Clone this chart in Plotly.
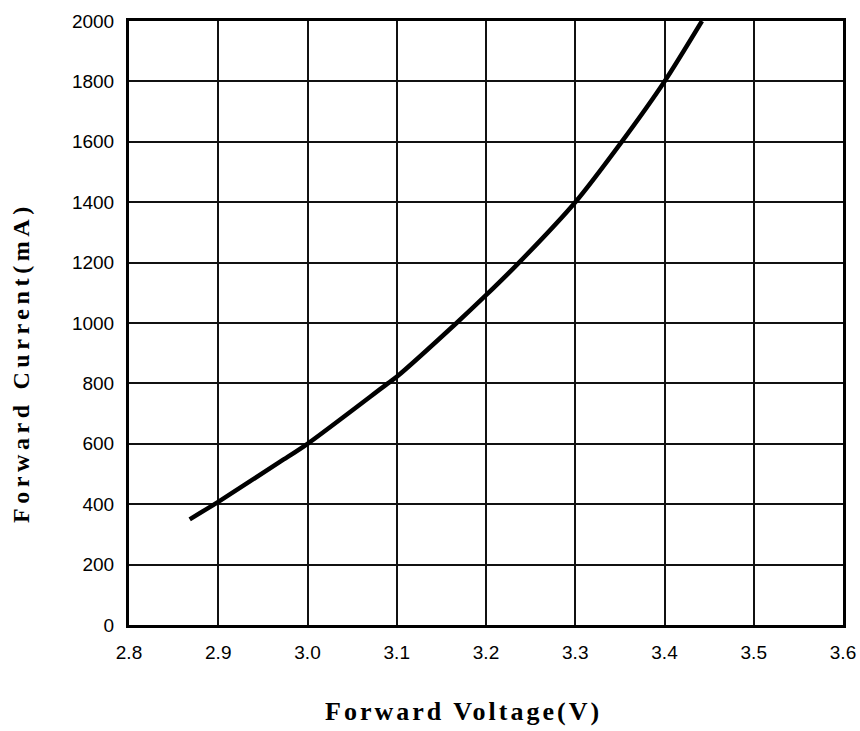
import plotly.graph_objects as go

voltage = [2.868, 2.9, 2.969, 3.0, 3.09, 3.1, 3.167, 3.2, 3.237, 3.3, 3.352, 3.4, 3.442]
current = [350, 408, 540, 600, 800, 822, 1000, 1092, 1200, 1400, 1600, 1800, 2000]

x_ticks = [2.8, 2.9, 3.0, 3.1, 3.2, 3.3, 3.4, 3.5, 3.6]
x_tick_labels = ["2.8", "2.9", "3.0", "3.1", "3.2", "3.3", "3.4", "3.5", "3.6"]
y_ticks = [0, 200, 400, 600, 800, 1000, 1200, 1400, 1600, 1800, 2000]

x_title = "Forward Voltage(V)"
y_title = "Forward Current(mA)"

fig = go.Figure()
fig.add_trace(go.Scatter(
    x=voltage, y=current, mode="lines",
    line=dict(color="black", width=4.5, shape="spline", smoothing=0.8),
    showlegend=False, hoverinfo="skip",
))

axis_common = dict(
    showgrid=True, gridcolor="#111", gridwidth=1.8,
    showline=True, linecolor="black", linewidth=3, mirror=True,
    ticks="", zeroline=False, automargin=False,
    tickfont=dict(family="Liberation Sans, Arial", size=19, color="black"),
)

fig.update_layout(
    width=860, height=731,
    margin=dict(l=129, r=17, t=21, b=106),
    paper_bgcolor="white", plot_bgcolor="white",
    xaxis=dict(range=[2.8, 3.6], tickvals=x_ticks, ticktext=x_tick_labels,
               ticklabelstandoff=8, **axis_common),
    yaxis=dict(range=[0, 2000], tickvals=y_ticks, ticklabelstandoff=8, **axis_common),
    annotations=[
        dict(text='<span style="letter-spacing:3px">' + x_title + '</span>',
             xref="paper", yref="paper", x=0.468, y=0, yshift=-86,
             xanchor="center", yanchor="middle", showarrow=False,
             font=dict(family="Liberation Serif, Times New Roman", size=26, color="black", weight="bold")),
        dict(text='<span style="letter-spacing:4.6px">' + y_title + '</span>',
             xref="paper", yref="paper", x=-0.151, y=0.434, textangle=-90,
             xanchor="center", yanchor="middle", showarrow=False,
             font=dict(family="Liberation Serif, Times New Roman", size=24, color="black", weight="bold")),
    ],
)

fig.write_html(
    "out.html",
    config={"displayModeBar": False},
    post_script="document.body.style.margin='0';document.body.style.overflow='hidden';",
)
